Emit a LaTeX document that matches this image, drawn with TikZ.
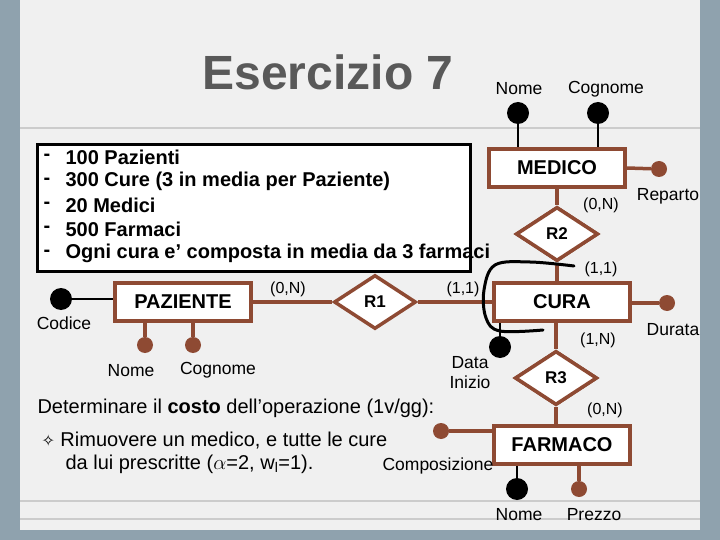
\documentclass[tikz,border=0pt]{standalone}
\usepackage{fontspec}
\setmainfont{Liberation Sans}
\newfontfamily\dejavu{DejaVu Sans}
\usetikzlibrary{shapes.geometric}
\definecolor{br}{HTML}{8E4A33}
\definecolor{bgout}{HTML}{8FA2AE}
\definecolor{panel}{HTML}{F0F0F0}
\begin{document}
\begin{tikzpicture}[x=1pt,y=-1pt,
 ent/.style={draw=br,line width=3.5pt,fill=white,minimum width=136pt,minimum height=38pt,font=\fontsize{20}{22}\selectfont\bfseries},
 rel/.style={diamond,draw=br,line width=3.5pt,fill=white,minimum width=82pt,minimum height=54pt,inner sep=0pt,font=\fontsize{17}{19}\selectfont\bfseries},
 lnk/.style={draw=br,line width=3.5pt},
 blk/.style={circle,fill=black,minimum size=22pt,inner sep=0pt},
 brd/.style={circle,fill=br,minimum size=16pt,inner sep=0pt},
 lab/.style={font=\fontsize{17.5}{20}\selectfont},
 card/.style={font=\fontsize{16}{18}\selectfont},
 lst/.style={font=\fontsize{20}{24}\selectfont\bfseries,anchor=west}]
\useasboundingbox (0,0) rectangle (720,540);
\fill[bgout] (0,0) rectangle (720,540);
\fill[panel] (20,0) rectangle (700,530);
\draw[gray!40,line width=2pt] (20,128) -- (700,128);
\draw[gray!40,line width=1.5pt] (20,501) -- (700,501);
\draw[gray!40,line width=1.5pt] (20,519) -- (700,519);
\node[font=\fontsize{48}{52}\selectfont\bfseries,text=black!65] (title) at (328,72) {Esercizio 7};
% list box
\node[draw=black,line width=3pt,fill=white,minimum width=433pt,minimum height=127pt,anchor=north west] (box) at (36,143) {};
\foreach \y/\t [count=\i] in {157/100 Pazienti,181/300 Cure (3 in media per Paziente),205/20 Medici,229/500 Farmaci,253/Ogni cura e’ composta in media da 3 farmaci}{
  \node[lst] (d\i) at (40,\y) {-};
  \node[lst] (l\i) at (62,\y) {\t};
}
% entities and relationships
\node[ent] (med) at (557,168) {MEDICO};
\node[ent] (cura) at (562,302) {CURA};
\node[ent] (paz) at (183,302) {PAZIENTE};
\node[ent] (far) at (562,445) {FARMACO};
\node[rel] (r1) at (375,302) {R1};
\node[rel] (r2) at (557,234) {R2};
\node[rel] (r3) at (556,378) {R3};
\draw[lnk] (paz) -- (r1); \draw[lnk] (r1) -- (cura);
\draw[lnk] (med) -- (r2); \draw[lnk] (r2) -- (r2 |- cura.north);
\draw[lnk] (r3 |- cura.south) -- (r3); \draw[lnk] (r3) -- (r3 |- far.north);
\node[ent] at (cura) {CURA};
\node[ent] at (far) {FARMACO};
\node[ent] at (med) {MEDICO};
\node[rel] at (r2) {R2};
\node[rel] at (r3) {R3};
% attributes
\node[blk] (mn) at (518,113) {}; \draw[line width=1.5pt] (mn) -- (mn |- med.north);
\node[blk] (mc) at (598,113) {}; \draw[line width=1.5pt] (mc) -- (mc |- med.north);
\node[lab] (mnl) at (519,89) {Nome};
\node[lab] (mcl) at (606,89) {Cognome};
\node[brd] (rep) at (659,169) {}; \draw[lnk] (med.east) -- (rep);
\node[lab] (repl) at (668,196) {Reparto};
\node[brd] (dur) at (667,303) {}; \draw[lnk] (cura.east |- dur) -- (dur);
\node[lab] (durl) at (673,330) {Durata};
\node[blk] (cod) at (61,299) {}; \draw[line width=1.5pt] (cod) -- (paz.west |- cod);
\node[lab] (codl) at (64,323) {Codice};
\node[brd] (pn) at (145,345) {}; \draw[lnk] (pn) -- (pn |- paz.south);
\node[brd] (pc) at (193,345) {}; \draw[lnk] (pc) -- (pc |- paz.south);
\node[lab] (pnl) at (131,371) {Nome};
\node[lab] (pcl) at (218,370) {Cognome};
\node[blk] (di) at (500,347) {}; \draw[line width=1.5pt] (di) -- (di |- cura.south);
\node[lab,align=center] (dil) at (470,373) {Data\\Inizio};
\node[brd] (comp) at (441,431) {}; \draw[lnk] (comp) -- (far.west |- comp);
\node[lab] (compl) at (438,466) {Composizione};
\node[blk] (fn) at (517,489) {}; \draw[line width=1.5pt] (fn) -- (fn |- far.south);
\node[brd] (fp) at (579,489) {}; \draw[lnk] (fp) -- (fp |- far.south);
\node[lab] (fnl) at (519,515) {Nome};
\node[lab] (fpl) at (594,515) {Prezzo};
% cardinalities
\node[card] (c1) at (288,289) {(0,N)};
\node[card] (c2) at (463,289) {(1,1)};
\node[card] (c3) at (601,205) {(0,N)};
\node[card] (c4) at (601,269) {(1,1)};
\node[card] (c5) at (598,340) {(1,N)};
\node[card] (c6) at (605,410) {(0,N)};
% freehand curve
\draw[line width=3pt,line cap=round] plot[smooth,tension=0.6] coordinates {(574,266) (530,262) (495,265) (484,290) (486,318) (500,331) (543,330)};
% bottom text
\node[font=\fontsize{20}{22}\selectfont,anchor=west] (det) at (34,408) {Determinare il \textbf{costo} dell’operazione (1v/gg):};
\node[font=\fontsize{20}{22}\selectfont,anchor=west] (b1) at (38,441) {{\dejavu\fontsize{16}{18}\selectfont ✧}\ Rimuovere un medico, e tutte le cure};
\node[font=\fontsize{20}{22}\selectfont,anchor=west] (b2) at (62,464) {da lui prescritte ($\alpha$=2, w\textsubscript{l}=1).};
\end{tikzpicture}
\end{document}
